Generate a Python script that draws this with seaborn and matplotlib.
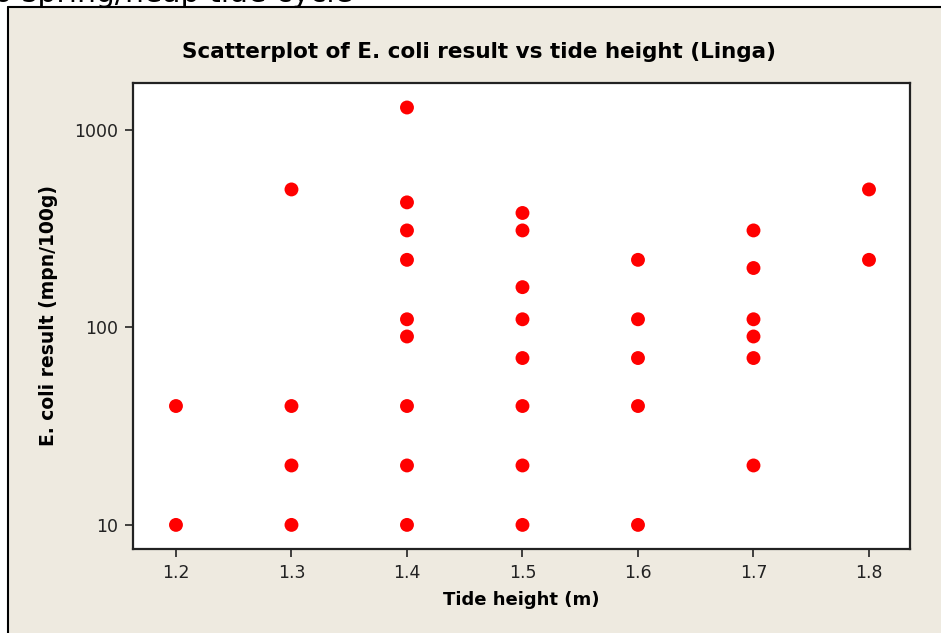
import matplotlib
matplotlib.use("Agg")
import matplotlib.pyplot as plt
import matplotlib.ticker as mticker
from matplotlib.patches import Rectangle
import pandas as pd
import seaborn as sns

# 数据：潮高 (m) 与 E. coli 结果 (mpn/100g)
tide_12 = [1.2, 1.2]
ecoli_12 = [40, 10]
tide_13 = [1.3, 1.3, 1.3, 1.3]
ecoli_13 = [500, 40, 20, 10]
tide_14 = [1.4] * 9
ecoli_14 = [1300, 430, 310, 220, 110, 90, 40, 20, 10]
tide_15 = [1.5] * 8
ecoli_15 = [380, 310, 160, 110, 70, 40, 20, 10]
tide_16 = [1.6] * 5
ecoli_16 = [220, 110, 70, 40, 10]
tide_17 = [1.7] * 6
ecoli_17 = [310, 200, 110, 90, 70, 20]
tide_18 = [1.8, 1.8]
ecoli_18 = [500, 220]

x_ticks = [1.2, 1.3, 1.4, 1.5, 1.6, 1.7, 1.8]
y_ticks = [10, 100, 1000]

df = pd.DataFrame({
    "tide": tide_12 + tide_13 + tide_14 + tide_15 + tide_16 + tide_17 + tide_18,
    "ecoli": ecoli_12 + ecoli_13 + ecoli_14 + ecoli_15 + ecoli_16 + ecoli_17 + ecoli_18,
})

sns.set_style("white")
plt.rcParams["font.family"] = ["DejaVu Sans"]
plt.rcParams["text.color"] = "black"
plt.rcParams["axes.labelcolor"] = "black"

fig = plt.figure(figsize=(9.41, 6.33), dpi=100)
fig.patch.set_facecolor("white")

# 米色背景面板 + 顶部/左侧黑线
W, H = 941, 633
fig.patches.append(Rectangle((8 / W, 0), 1, 1 - 7 / H, transform=fig.transFigure,
                             facecolor="#EEEAE0", edgecolor="none", zorder=-5))
fig.add_artist(plt.Line2D([8 / W, 1], [1 - 7 / H, 1 - 7 / H], transform=fig.transFigure,
                          color="black", lw=1.5, zorder=-4))
fig.add_artist(plt.Line2D([8 / W, 8 / W], [0, 1 - 7 / H], transform=fig.transFigure,
                          color="black", lw=1.5, zorder=-4))

# 上方被裁掉的文字（原图中只露出下半部分）
fig.text(-0.006, 1 - 1.5 / H, "o spring/neap tide cycle", fontsize=21.5, va="baseline",
         ha="left", color="black", zorder=-3)

ax = fig.add_axes([133 / W, 1 - 549 / H, (910 - 133) / W, (549 - 83) / H])
ax.set_facecolor("white")

sns.scatterplot(data=df, x="tide", y="ecoli", ax=ax, color="#FF0000",
                s=100, edgecolor="none", linewidth=0, zorder=3)

ax.set_yscale("log")
ax.set_xlim(1.1628, 1.8355)
ax.set_ylim(7.55, 1730)
ax.set_xticks(x_ticks)
ax.set_xticklabels([f"{v:.1f}" for v in x_ticks])
ax.yaxis.set_major_locator(mticker.FixedLocator(y_ticks))
ax.yaxis.set_major_formatter(mticker.FixedFormatter([str(v) for v in y_ticks]))
ax.yaxis.set_minor_locator(mticker.NullLocator())

for s in ax.spines.values():
    s.set_color("#222222")
    s.set_linewidth(1.6)

ax.tick_params(axis="both", which="major", direction="out", length=6, width=1.2,
               color="#222222", labelsize=12.5, labelcolor="#222222", pad=5,
               bottom=True, left=True)

ax.set_xlabel("Tide height (m)", fontsize=13, fontweight="bold", labelpad=6)
ax.set_ylabel("E. coli result (mpn/100g)", fontsize=13.5, fontweight="bold", labelpad=11)

fig.text(478.5 / W, 1 - 52 / H, "Scatterplot of E. coli result vs tide height (Linga)",
         fontsize=15.5, fontweight="bold", ha="center", va="center")

fig.savefig("out.png", dpi=100)
